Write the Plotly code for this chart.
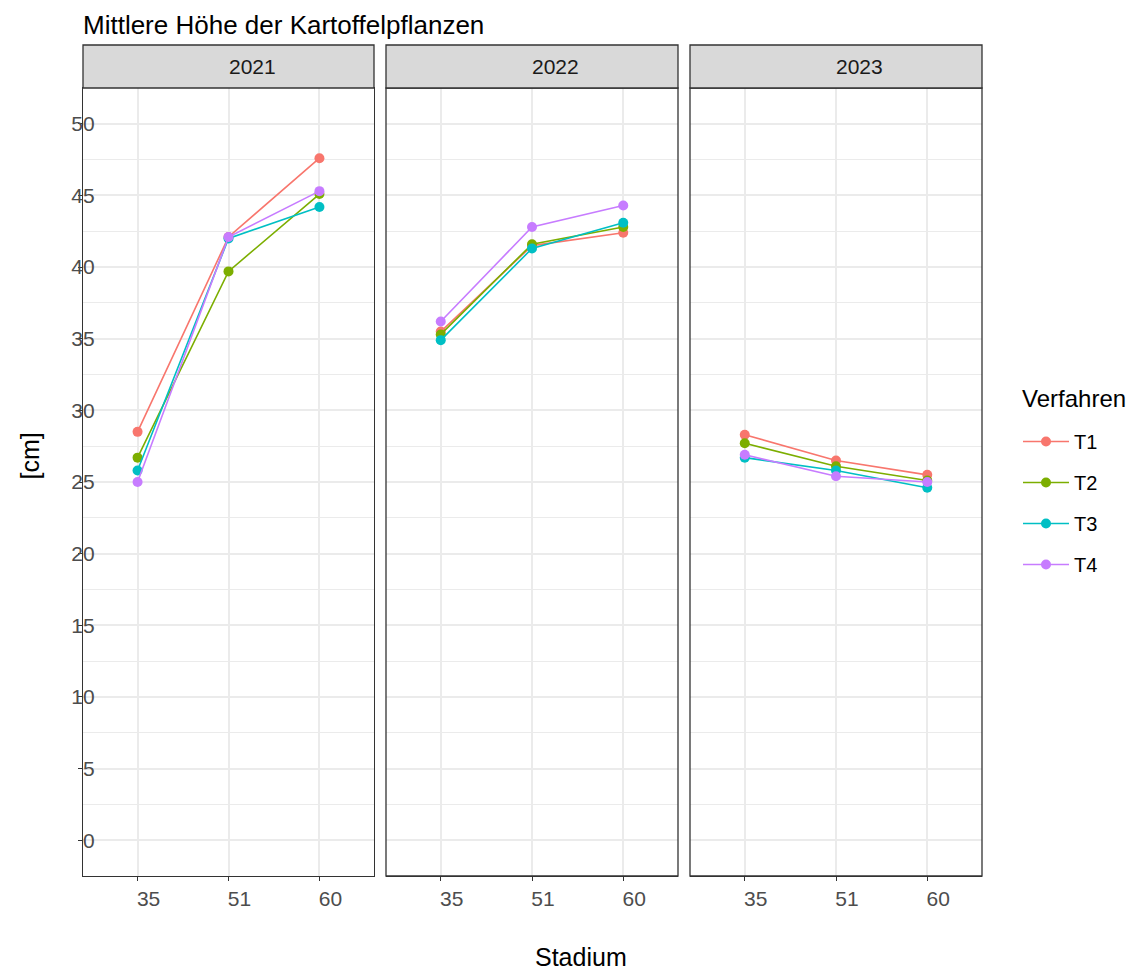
import plotly.graph_objects as go

OFF = 8  # page body margin in the browser
W, H = 1136 - OFF, 970 - OFF

years = ["2021", "2022", "2023"]
stadien = ["35", "51", "60"]
verfahren = ["T1", "T2", "T3", "T4"]
colors = ["#F8766D", "#7CAE00", "#00BFC4", "#C77CFF"]

# mean plant height [cm] per year, per treatment, at stages 35 / 51 / 60
h2021 = {"T1": [28.5, 42.1, 47.6], "T2": [26.7, 39.7, 45.1],
         "T3": [25.8, 42.0, 44.2], "T4": [25.0, 42.1, 45.3]}
h2022 = {"T1": [35.5, 41.5, 42.4], "T2": [35.3, 41.6, 42.8],
         "T3": [34.9, 41.3, 43.1], "T4": [36.2, 42.8, 44.3]}
h2023 = {"T1": [28.3, 26.5, 25.5], "T2": [27.7, 26.1, 25.1],
         "T3": [26.7, 25.8, 24.6], "T4": [26.9, 25.4, 25.0]}
data = {"2021": h2021, "2022": h2022, "2023": h2023}

y_ticks = [0, 5, 10, 15, 20, 25, 30, 35, 40, 45, 50]

def px_x(p):
    return (p - OFF) / W

def px_y(p):
    return 1 - (p - OFF) / H

panels = [(83, 374), (386, 678), (690, 982)]
top, bottom, strip_top = 88, 876, 45
FONT = "Liberation Sans, Arial"

fig = go.Figure()

for i, yr in enumerate(years):
    xa = "x" if i == 0 else f"x{i+1}"
    for j, t in enumerate(verfahren):
        fig.add_trace(go.Scatter(
            x=stadien, y=data[yr][t], mode="lines+markers",
            name=t, legendgroup=t, showlegend=(i == 0),
            line=dict(color=colors[j], width=1.6),
            marker=dict(color=colors[j], size=10),
            xaxis=xa, yaxis="y",
        ))

axis_common = dict(
    type="category", categoryorder="array", categoryarray=stadien,
    range=[-0.6, 2.6], showgrid=True, gridcolor="#EBEBEB", gridwidth=1.5,
    showline=True, linecolor="#333333", linewidth=1.3, mirror=True,
    ticks="outside", ticklen=4, tickcolor="#333333", tickwidth=1.2,
    tickfont=dict(family=FONT, size=21, color="#4D4D4D"),
    ticklabelshift=11, zeroline=False,
)

layout = dict(
    width=W, height=H, margin=dict(l=0, r=0, t=0, b=0),
    paper_bgcolor="white", plot_bgcolor="white",
    font=dict(family=FONT, color="black"),
    showlegend=True,
    legend=dict(
        x=px_x(1018), y=px_y(422), xanchor="left", yanchor="top",
        font=dict(size=20, color="black"), tracegroupgap=12,
        itemwidth=46, bgcolor="rgba(0,0,0,0)",
    ),
)
for i, (x0, x1) in enumerate(panels):
    key = "xaxis" if i == 0 else f"xaxis{i+1}"
    ax = dict(axis_common)
    ax["domain"] = [px_x(x0), px_x(x1)]
    ax["anchor"] = "y"
    layout[key] = ax

layout["yaxis"] = dict(
    domain=[px_y(bottom), px_y(top)], range=[-2.5, 52.5],
    tickvals=y_ticks, ticktext=[str(v) for v in y_ticks],
    showgrid=True, gridcolor="#EBEBEB", gridwidth=1.5,
    minor=dict(tick0=0, dtick=2.5, showgrid=True, gridcolor="#EBEBEB", gridwidth=1),
    showline=True, linecolor="#333333", linewidth=1.3, mirror=True,
    ticks="outside", ticklen=4, tickcolor="#333333", tickwidth=1.2,
    tickfont=dict(family=FONT, size=21, color="#4D4D4D"),
    ticklabelstandoff=-21, zeroline=False, anchor="x",
)
fig.update_layout(**layout)

shapes = []
annotations = []
for i, (x0, x1) in enumerate(panels):
    if i > 0:
        shapes.append(dict(type="rect", xref="paper", yref="paper",
                           x0=px_x(x0), x1=px_x(x1), y0=px_y(bottom), y1=px_y(top),
                           line=dict(color="#333333", width=1.3), fillcolor="rgba(0,0,0,0)",
                           layer="above"))
    shapes.append(dict(type="rect", xref="paper", yref="paper",
                       x0=px_x(x0), x1=px_x(x1), y0=px_y(top), y1=px_y(strip_top),
                       line=dict(color="#333333", width=1.3), fillcolor="#D9D9D9"))
    annotations.append(dict(text=years[i], xref="paper", yref="paper",
                            x=px_x((x0 + x1) / 2 - 2), y=px_y((top + strip_top) / 2),
                            xanchor="left", yanchor="middle", showarrow=False,
                            font=dict(size=21, color="#1A1A1A")))

annotations.append(dict(text="Mittlere Höhe der Kartoffelpflanzen", xref="paper", yref="paper",
                        x=px_x(81), y=1.0, xanchor="left", yanchor="top",
                        showarrow=False, font=dict(size=26, color="black")))
annotations.append(dict(text="Stadium", xref="paper", yref="paper",
                        x=px_x(533), y=px_y(957), xanchor="left", yanchor="middle",
                        showarrow=False, font=dict(size=25, color="black")))
annotations.append(dict(text="[cm]", xref="paper", yref="paper",
                        x=px_x(29), y=px_y(482), xanchor="center", yanchor="bottom",
                        textangle=-90, showarrow=False, font=dict(size=25, color="black")))
annotations.append(dict(text="Verfahren", xref="paper", yref="paper",
                        x=px_x(1020), y=px_y(398), xanchor="left", yanchor="middle",
                        showarrow=False, font=dict(size=24, color="black")))

fig.update_layout(shapes=shapes, annotations=annotations)

fig.write_html("out.html")
